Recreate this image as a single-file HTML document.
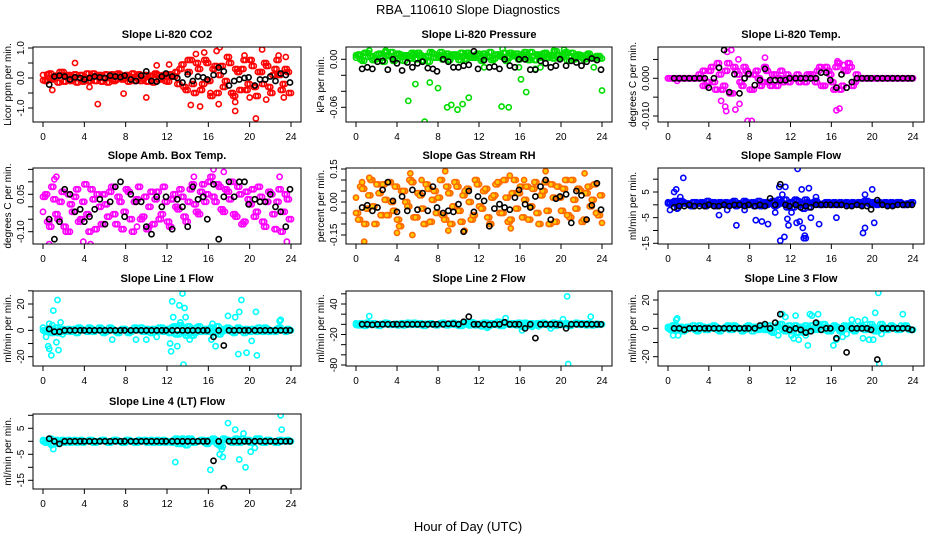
<!DOCTYPE html>
<html><head><meta charset="utf-8"><title>RBA_110610 Slope Diagnostics</title>
<style>
html,body{margin:0;padding:0;background:#fff;}
svg{display:block;font-family:"Liberation Sans",Arial,sans-serif;}
</style></head>
<body>
<svg id="chart" width="936" height="540" viewBox="0 0 936 540" xmlns="http://www.w3.org/2000/svg">
<rect width="936" height="540" fill="#fff"/>
<text x="468" y="14" text-anchor="middle" font-size="13">RBA_110610  Slope Diagnostics</text>
<text x="468" y="531" text-anchor="middle" font-size="13">Hour of Day (UTC)</text>
</svg>
<script>
// ---- data ----
const xTicks = [0,4,8,12,16,20,24];
const blackHours = [0.6,1.1,1.6,2.1,2.6,3.1,3.6,4.0,4.5,5.0,5.5,6.0,6.5,7.0,7.5,7.9,8.5,9.0,9.5,10.0,10.5,11.0,11.5,11.9,12.5,13.0,13.5,14.0,14.5,15.0,15.5,15.9,16.5,17.0,17.5,18.0,18.5,19.0,19.5,19.9,20.5,21.0,21.5,22.0,22.5,23.0,23.5,23.9];
const gridA = [0,0.4,0.8,1.2,1.6,2,2.4,2.8,3.2,3.6,4,4.4,4.8,5.2,5.6,6,6.4,6.8,7.2,7.6,8,8.4,8.8,9.2,9.6,10,10.4,10.8,11.2,11.6,12,12.4,12.8,13.2,13.6,14,14.4,14.8,15.2,15.6,16,16.4,16.8,17.2,17.6,18,18.4,18.8,19.2,19.6,20,20.4,20.8,21.2,21.6,22,22.4,22.8,23.2,23.6,24];
const gridB = [0.2,0.6,1,1.4,1.8,2.2,2.6,3,3.4,3.8,4.2,4.6,5,5.4,5.8,6.2,6.6,7,7.4,7.8,8.2,8.6,9,9.4,9.8,10.2,10.6,11,11.4,11.8,12.2,12.6,13,13.4,13.8,14.2,14.6,15,15.4,15.8,16.2,16.6,17,17.4,17.8,18.2,18.6,19,19.4,19.8,20.2,20.6,21,21.4,21.8,22.2,22.6,23,23.4,23.8];

// Panel 1: CO2
const co2BandA = [0.1,-0.1,0.15,0,-0.15,0.1,0.05,-0.1,0.12,0,-0.12,0.15,0.05,-0.1,0.1,0,-0.15,0.12,-0.05,0.1,0,-0.12,0.15,0,-0.1,0.1,0.05,-0.15,0.1,0,-0.1,0.12,0.05,-0.2,0.45,-0.4,0.6,-0.5,0.3,-0.2,0.5,-0.6,0.4,0.1,-0.3,0.7,-0.5,0.3,-0.4,0.6,-0.2,0.4,-0.6,0.2,0.5,-0.3,0.1,0.6,-0.4,0.3,-0.5];
const co2BandB = [-0.08,0.12,-0.05,0.08,0.2,-0.12,0.1,0.02,-0.15,0.1,-0.02,-0.1,0.15,0.08,-0.12,0.12,0.02,-0.1,0.15,-0.05,0.1,0.03,-0.1,0.12,-0.02,-0.12,0.08,0.15,-0.05,0.1,-0.12,0.05,0.2,0.3,-0.3,0.2,-0.2,0.5,-0.4,0.6,-0.1,0.3,-0.5,0.4,-0.1,0.5,-0.6,0.2,0.3,-0.4,0.6,-0.3,0.2,-0.2,0.4,-0.5,0.3,0.1,-0.2,0.2];
const co2OutX = [3.1,5.3,0.9,7.8,10,14.3,14.8,15.2,15.6,16.8,17.1,17.0,18.6,20.6,20.0,21.2,19.5,21.6,23.3,22.8,23.5,18.6,16.2,14,12.2,11,2,4.5];
const co2OutY = [0.5,-0.87,-0.4,-0.52,-0.65,-0.9,0.8,-0.95,0.85,0.9,1.02,-0.87,-1.1,-1.35,-0.65,0.95,0.75,-0.72,-0.65,0.75,0.7,-0.8,-0.5,0.6,0.45,0.42,0.2,-0.3];
const co2Black = [-0.22,0.05,0.08,0.05,-0.05,0.02,0.0,-0.05,0,0.05,0.02,0.0,0.08,0.05,0.03,0.08,-0.05,-0.1,0.08,0.22,-0.1,-0.12,0.05,0.15,0.05,0.0,-0.15,0.12,-0.1,0.05,0.02,-0.05,0.1,0.35,0.22,-0.25,-0.1,-0.05,0.0,0.02,-0.25,-0.05,-0.05,0.05,-0.1,0.15,0.1,-0.15];
const co2Ticks = [-1,-0.5,0,0.5,1];
const co2TickLabels = ["-1.0","","0.0","","1.0"];

// Panel 2: Pressure
const presBandA = [0.002,0.006,-0.002,0.008,0.004,0,0.007,-0.003,0.005,0.009,0.001,0.006,-0.002,0.004,0.008,0,0.005,0.003,-0.003,0.007,0.002,0.009,0.004,-0.001,0.006,0.003,0.008,0,0.005,0.002,0.007,-0.002,0.004,0.009,0.001,0.006,0.003,-0.002,0.008,0.004,0,0.006,0.002,0.009,-0.001,0.005,0.007,0.002,0.004,0.01,0.001,0.006,-0.002,0.008,0.003,0.005,0,0.007,0.002,0.004,0.001];
const presBandB = [0.005,0,0.008,0.003,-0.001,0.006,0.002,0.009,0.004,-0.002,0.007,0.003,0.005,0.001,0.006,0.008,-0.002,0.004,0.009,0.002,0.005,0,0.007,0.003,0.006,-0.001,0.004,0.008,0.002,0.005,0.001,0.007,0.003,-0.001,0.006,0.004,0.008,0.002,0.005,0.007,0.003,0.009,-0.001,0.004,0.006,0.002,0.008,0.005,0.001,0.006,0.003,0.009,0.004,0,0.006,0.002,0.005,0.003,0.001,0.004];
const presOutX = [5.1,5.8,6.7,7.2,8.0,8.9,9.3,9.9,10.4,11,14.2,14.9,15.9,16.1,16.6,24,12.5,17.5,18,23.2,1.3,2.9,14.3,19.3,20.3];
const presOutY = [-0.052,-0.031,-0.078,-0.029,-0.036,-0.06,-0.057,-0.063,-0.056,-0.048,-0.059,-0.06,-0.01,-0.025,-0.041,-0.039,-0.01,-0.012,-0.01,-0.01,0.011,0.011,0.013,0.011,0.012];
const presBlack = [-0.012,-0.01,-0.012,-0.003,-0.002,-0.013,0,-0.005,-0.014,-0.004,-0.01,-0.005,-0.003,-0.011,-0.012,-0.015,0,-0.003,-0.01,-0.01,-0.008,-0.007,0.01,-0.012,-0.001,-0.01,-0.009,-0.012,0,-0.008,-0.01,0,0,-0.013,-0.013,-0.002,-0.005,-0.01,-0.008,0,-0.008,-0.002,-0.004,-0.008,-0.003,0.001,-0.001,-0.013];
const presTicks = [-0.06,-0.04,-0.02,0];
const presTickLabels = ["-0.06","","","0.00"];

// Panel 3: Li-820 Temp
const tempBandA = [0,0,0,0,0,0,0,0,0.001,0.002,-0.001,0.003,-0.003,0.001,-0.002,0.004,-0.004,0.002,-0.001,0.003,0.001,-0.003,0.002,-0.002,0.003,-0.001,0.001,-0.002,0.002,0,-0.001,0,0.001,0,-0.001,0.001,0,0.002,-0.002,0.003,0.001,-0.003,0.004,-0.002,0.002,0.003,-0.001,0,0,0,0,0,0,0,0,0,0,0,0,0,0];
const tempBandB = [0,0,0,0,0,0,0,0,0,-0.002,0.002,-0.001,0.004,-0.003,0.002,-0.004,0.003,0.001,-0.002,0.002,-0.003,0.001,0,-0.001,0.002,-0.002,0.001,0,-0.001,0.001,0,0,-0.001,0,0.001,0.001,-0.001,0.003,-0.002,0.002,-0.001,0.003,-0.003,0.002,0.004,-0.002,0.001,0,0,0,0,0,0,0,0,0,0,0,0,0];
const tempOutX = [7.8,8.2,5.7,6.6,6.2,5.8,9.5,7.0,16.5,16.8,16.6,17.2,5.2,3.4,0.9,5.6,6.9];
const tempOutY = [-0.0113,-0.0113,-0.0087,-0.0083,0.0075,0.007,0.0055,-0.0068,-0.0085,-0.008,0.0045,0.0035,-0.006,-0.002,-0.0007,-0.0075,0.005];
const tempBlack = [0,0,0,0,0,0,0,-0.0025,0,0.0028,0.0075,-0.0037,0.0011,-0.004,0,0.0012,-0.0018,-0.0005,0.0025,-0.0005,-0.0005,-0.0005,-0.0005,0,0,0,0,0,0,0.0015,0.0015,-0.0005,-0.0025,0.001,-0.0025,-0.001,0,0,0,0,0,0,0,0,0,0,0,0];
const tempTicks = [-0.01,-0.005,0,0.005];
const tempTickLabels = ["-0.010","","0.000",""];

// Panel 4: Amb Box Temp
const ambBandA = [-0.02,0.05,-0.08,0.03,-0.05,0.06,-0.1,0.01,0.04,-0.06,0.02,-0.03,0.07,-0.09,0.0,0.05,-0.04,0.08,-0.07,0.02,-0.02,0.06,-0.1,0.03,-0.05,0.04,0.0,-0.07,0.06,-0.03,0.02,-0.08,0.05,-0.01,0.04,-0.06,0.07,0.01,-0.03,0.09,0.05,0.12,0.02,0.08,-0.02,0.06,0.1,-0.04,0.05,-0.06,0.03,0.07,-0.02,0.04,-0.08,0.06,-0.03,0.02,-0.1,0.05,-0.05];
const ambBandB = [0.04,-0.06,0.08,-0.03,0.02,-0.08,0.05,-0.02,0.07,-0.05,0.09,-0.1,0.03,0.05,-0.07,0.01,0.06,-0.03,0.04,-0.09,0.07,-0.05,0.02,0.08,-0.04,-0.09,0.06,0.03,-0.05,0.08,-0.06,0.03,0.0,0.07,-0.04,0.02,0.09,-0.02,0.06,0.02,0.1,0.04,0.09,-0.01,0.07,0.03,-0.03,0.08,-0.07,0.06,0.01,-0.04,0.08,-0.06,0.02,0.05,-0.09,0.07,-0.02,0.03];
const ambOutX = [0.6,1.3,4.6,3.9,23.5,23.6,19,16.5,17.5,2.6,9.1,10.3,1.1,14.6,22.9];
const ambOutY = [-0.15,0.12,-0.15,-0.14,-0.17,-0.14,0.17,0.15,0.14,-0.1,-0.08,-0.08,0.11,0.12,0.12];
const ambBlack = [-0.05,-0.13,-0.06,0.07,0.05,-0.02,-0.01,-0.06,-0.04,-0.01,0.03,-0.07,0.02,0.08,0.1,-0.04,0.05,0.02,0.02,-0.08,-0.11,0.04,0.0,0.04,-0.09,0.03,0.0,-0.08,0.08,0.03,0.04,-0.05,0.09,-0.13,0.04,0.1,0.04,0.1,0.1,0.01,0.03,0.02,0.02,0.05,0.0,-0.02,-0.08,0.07];
const ambTicks = [-0.10,-0.05,0,0.05,0.10,0.15];
const ambTickLabels = ["-0.10","","","0.05","",""];

// Panel 5: Gas Stream RH
const rhBandA = [0.02,-0.08,0.06,-0.03,0.1,-0.1,0.04,0.08,-0.06,0.0,0.07,-0.11,0.05,-0.02,0.09,-0.07,0.03,-0.1,0.06,0.01,-0.05,0.1,-0.08,0.04,-0.02,0.07,-0.09,0.05,0.0,-0.06,0.08,-0.03,0.06,-0.1,0.03,0.09,-0.05,0.02,-0.08,0.1,0.04,-0.07,0.07,-0.02,0.09,-0.1,0.05,-0.04,0.08,-0.09,0.02,0.06,-0.06,0.1,-0.03,0.05,-0.08,0.07,0.01,-0.05,0.03];
const rhBandB = [-0.05,0.07,-0.1,0.03,-0.02,0.08,-0.06,0.01,0.09,-0.04,-0.08,0.05,0.0,0.1,-0.07,0.04,-0.03,0.08,-0.09,0.05,0.02,-0.06,0.07,-0.1,0.09,-0.04,0.03,0.06,-0.08,0.1,-0.02,0.05,-0.07,0.02,0.08,-0.05,0.1,-0.09,0.04,-0.03,0.07,0.01,-0.08,0.06,-0.05,0.03,0.09,-0.1,0.02,0.07,-0.04,0.1,-0.07,0.01,0.06,-0.09,0.04,-0.02,0.08,-0.06];
const rhOutX = [0.8,1.3,4,5.5,9,10.6,15,18.5,22.3,8.7,24,15.1,5.3,0.6,6.4,16.4];
const rhOutY = [-0.18,0.11,-0.14,-0.15,-0.13,-0.13,0.12,0.14,0.13,0.14,-0.095,-0.12,0.13,0.09,0.1,0.1];
const rhBlack = [-0.025,-0.015,-0.04,-0.025,0.055,0.09,0.005,-0.045,0.025,-0.04,0.055,-0.035,0.04,-0.04,0.07,-0.025,-0.05,-0.04,-0.045,-0.01,-0.135,0.05,-0.045,0.025,0.005,-0.11,-0.03,-0.01,-0.025,-0.035,0.02,0.055,-0.01,-0.025,0.025,0.07,0.1,-0.08,0.015,0.025,0.035,-0.095,0.05,0.03,-0.08,-0.015,0.085,-0.035];
const rhTicks = [-0.15,-0.10,-0.05,0,0.05,0.10,0.15];
const rhTickLabels = ["-0.15","","","0.00","","","0.15"];

// Panel 6: Sample Flow
const sfBandA = [1,0.5,1.5,0,1,0.5,-0.5,1,0.5,0,1.5,0.5,-0.5,1,0,0.5,1,-0.5,0.5,1.5,0,1,0.5,-0.5,1,0.5,1.5,0,1,2,0.5,-1,1.5,0.5,2,-1,1,0.5,0,1,0.5,1,0,0.5,1,0,0.5,1,0.5,1.5,0,0.5,1,0.5,0,1,0.5,1,0,0.5,1];
const sfBandB = [0.5,1,0,1.5,0.5,0,1,0.5,1,-0.5,0.5,1,0,0.5,1,0,1.5,0.5,0,1,0.5,-0.5,1.5,0.5,0,1,-0.5,2,0.5,-1,1,2,0,-1.5,1,0.5,1.5,0,0.5,1,0,0.5,1,0.5,0,1,0.5,0,1.5,0.5,1,0,0.5,1,0.5,0,1,0.5,0,0.5];
const sfOutX = [0.2,0.6,0.8,1.5,1.2,5,5.8,6.7,7.5,8.6,9.2,9.8,10.5,10.9,11.2,11.5,11,11.4,11.7,11.8,12.7,12.6,12.9,13.2,13.3,13.5,13.4,13.1,13.8,14.5,14.8,16.5,19.1,19.3,19.3,20,20.2,12.1,14,0.9,1];
const sfOutY = [-2,5,6,10.5,3,-4,-2,-8,-2,-6,-6.5,-7.5,-3,7,4,7,-14,-12.5,-5.5,-8,14,-7,-6.5,-9,-13,-13,-12,6,6.5,3,-7.5,-5,-11,-9,4,6,-7,-3,-5,-1.5,-1.2];
const sfBlack = [-1,-0.5,-0.5,0,-0.5,-0.5,-0.5,0,-0.5,-0.5,0,-0.5,0,0,-0.5,0,-0.5,0,-0.5,2.5,0,8,0,-0.5,0,-1,-0.5,-1,0,0,0,0,0,0,-0.5,-0.5,0,-0.5,-0.5,-1.8,1.8,0,-0.5,-0.5,0,0,0,0];
const sfTicks = [-15,-10,-5,0,5,10];
const sfTickLabels = ["-15","","-5","","5",""];

// Panel 7: Line 1 Flow
const l1BandA = [2,-1,1,0,-2,1,0,-1,1,2,0,-1,1,0,2,-2,0,1,-1,0,1,-2,0,1,2,-1,0,1,-1,2,0,-2,3,-3,2,-4,1,-2,3,0,-1,2,0,-3,1,2,-1,0,1,-2,0,1,-1,0,2,-1,0,1,0,-1,0];
const l1BandB = [0,1,-2,2,0,-1,1,0,-2,1,0,2,-1,0,1,-1,2,0,-2,1,0,-1,2,0,-1,1,-2,0,2,-1,1,2,-3,4,-2,3,-4,2,-1,1,0,-2,3,-1,0,1,-2,2,0,1,-1,0,2,-1,1,0,-1,2,0,1];
const l1OutX = [0.3,0.5,0.6,0.8,1.0,1.3,1.5,1.4,1.7,1.9,6.7,9,10,11,12.3,12.4,12.5,12.6,13.2,13.5,13.7,13.8,13.6,13,13.3,14.2,16.3,16.7,16.4,17.9,18.6,18.9,19.2,19.0,19.7,20.2,20.6,20.7,22.9,23,0.6,0.9];
const l1OutY = [-5,-12,-14,-19,15,-9,-15,23,6,-3,-7,-7,-7,-5,-10,-16,22,10,19,28,17,10,-26,-12,6,-7,-7,-12,5,11,10,-18,23,14,-17,-8,14,-19,7,8,5,4];
const l1Black = [1,-1,-1,0,0,0,0,0,0,0,0,0,0,0,0,0,0,0,0,0,0,0,0,0,0,0,0,0,0,0,0,0,-5,0,-11.5,0,0,0,0,0,0,0,0,0,0,0,0,0];
const l1Ticks = [-20,-10,0,10,20,30];
const l1TickLabels = ["-20","","0","","20",""];

// Panel 8: Line 2 Flow
const l2BandA = [2,-2,0,3,-1,1,-3,0,2,-1,1,0,-2,3,0,-1,2,-3,1,0,-2,2,0,-1,3,1,-3,4,-2,2,0,-4,3,-2,1,5,-3,2,-1,0,3,-5,1,2,-2,0,3,-1,1,-3,2,0,-2,1,3,-1,0,2,-2,1,0];
const l2BandB = [-1,2,-3,0,2,-2,1,3,-1,0,-2,2,1,-1,3,0,-2,1,2,-1,0,3,-2,1,-1,-3,2,0,4,-2,1,3,-4,2,-1,-3,4,0,2,-2,1,3,-3,0,2,-1,1,-2,3,0,-1,2,-3,1,0,2,-2,1,0,-1];
const l2OutX = [1.3,20.6,20.7,16.2,19,12.8,14.6,20.2,22.9,17.2,17.8];
const l2OutY = [16,55,-78,-12,-8,-7,12,10,15,-5,-4];
const l2Black = [0,0,-1,0,0,0,0,0,0,0,0,0,0,0,0,0,0,1,1,0,5,15,0,0,0,-1,0,0,4,0,0,0,-8,0,-27,0,0,0,0,-1,-8,0,0,0,0,0,0,0];
const l2Ticks = [-80,-60,-40,-20,0,20,40,60];
const l2TickLabels = ["-80","","","-20","","","40",""];

// Panel 9: Line 3 Flow
const l3BandA = [1,-1,2,0,-2,1,0,-1,2,1,-1,0,1,-2,0,2,-1,1,0,-1,2,-2,1,0,-1,2,-3,1,3,-2,2,0,-3,1,2,-2,0,3,-1,1,-2,2,0,-1,1,2,-2,0,1,-1,3,-2,0,1,-1,2,0,-1,1,0,-1];
const l3BandB = [0,2,-1,1,-1,0,2,-2,0,-1,1,2,-1,0,1,-1,2,0,-2,1,0,1,-1,2,0,-2,1,3,-1,0,-2,2,1,-3,0,2,-1,1,3,-2,0,1,-2,2,1,-1,0,2,-1,0,1,-2,3,-1,0,1,-1,0,2,-1];
const l3OutX = [0.5,0.8,0.9,1.0,10.8,11.2,11.5,12.1,12.3,12.5,12.8,13.5,13.7,13.9,14.1,14.7,16.2,16.5,17.1,17.5,18.0,18.6,19.1,19.3,19.7,20.1,20.3,20.6,20.7,20.9,23,22.8];
const l3OutY = [-5,6,7,-5,-5,10,8,-5,-7,9,-8,-5,-12,10,9,10,-12,-8,-6,-4,6,5,-7,6,-8,-8,11,25,-25,-4,10,2];
const l3Black = [0,0,-1,0,0,0,0,0,0,0,0,0,0,0,0,0,0,2,3,0,4,10,0,-1,0,-1,-3,-2,4,-1,0,0,-7,0,-17,0,0,0,0,-1,-22,0,0,0,0,0,0,-1];
const l3Ticks = [-20,-10,0,10,20];
const l3TickLabels = ["-20","","0","","20"];

// Panel 10: Line 4 (LT) Flow
const l4BandA = [0.5,-0.5,1,0,-1,0.5,0,-0.5,0.5,0,-0.5,0,0.5,-0.5,0,0.5,-0.5,0,0.5,0,-0.5,0.5,0,-0.5,0,0.5,0,-0.5,0.5,0,-0.5,0,0.5,-1,1,-1.5,0.5,-0.5,0,0.5,-1,0,0.5,-1.5,1,0.5,-0.5,1,-0.5,0,0.5,-0.5,1,0,-0.5,0.5,0,-0.5,0.5,0,0];
const l4BandB = [0,0.5,-1,0.5,0,-0.5,0.5,0,-0.5,0.5,0,0.5,-0.5,0,0.5,0,-0.5,0.5,0,-0.5,0.5,0,-0.5,0.5,0,-0.5,0.5,0,-0.5,0.5,0,-0.5,1,-1,0.5,1,-0.5,0,0.5,-0.5,0.5,1,-1,-2,0.5,0,0.5,-0.5,1,0.5,-0.5,0,1,-0.5,0.5,0,-0.5,0.5,0,0.5];
const l4OutX = [1.0,12.8,16.2,17.1,17.4,17.3,17.9,18.6,19.0,19.4,19.6,20.1,20.5,20.7,23.0,23.1,13.6,14.4,0.8];
const l4OutY = [-3,-8,-11,-5,-6,-3,7,4.5,-7,3,-10,-4,-2.5,0.5,10,4.5,-1,1,-1.5];
const l4Black = [1,0,-1,0,0,0,0,0,0,0,0,0,0,0,0,0,0,0,0,0,0,0,0,0,0,0,0,0,0,0,0,0,-7.5,0,-18,0,0,0,0,0,0,0,0,0,0,0,0,0];
const l4Ticks = [-15,-10,-5,0,5,10];
const l4TickLabels = ["-15","","-5","","5",""];

// ---- layout ----
const cols = [{l:33,r:301,x0:43,x24:291},{l:346,r:612,x0:356,x24:602},{l:658,r:924,x0:668,x24:913}];
const rows = [{t:47,b:122},{t:168,b:244},{t:291,b:366},{t:414,b:489}];
const panels = [
 {name:'co2',title:'Slope Li-820 CO2',ylab:'Licor ppm per min.',c:0,r:0,stroke:'#ff0000',fill:'none',a:[1,48,-1,108],bandA:co2BandA,bandB:co2BandB,ox:co2OutX,oy:co2OutY,blk:co2Black,ticks:co2Ticks,tl:co2TickLabels},
 {name:'pressure',title:'Slope Li-820 Pressure',ylab:'kPa per min.',c:1,r:0,stroke:'#00dd00',fill:'none',a:[0,59.3,-0.06,107.3],bandA:presBandA,bandB:presBandB,ox:presOutX,oy:presOutY,blk:presBlack,ticks:presTicks,tl:presTickLabels},
 {name:'li820-temp',title:'Slope Li-820 Temp.',ylab:'degrees C per min.',c:2,r:0,stroke:'#ff00ff',fill:'none',a:[0,78.3,-0.01,116],bandA:tempBandA,bandB:tempBandB,ox:tempOutX,oy:tempOutY,blk:tempBlack,ticks:tempTicks,tl:tempTickLabels},
 {name:'amb-box-temp',title:'Slope Amb. Box Temp.',ylab:'degrees C per min.',c:0,r:1,stroke:'#ff00ff',fill:'none',a:[0.05,194.3,-0.10,231.7],bandA:ambBandA,bandB:ambBandB,ox:ambOutX,oy:ambOutY,blk:ambBlack,ticks:ambTicks,tl:ambTickLabels},
 {name:'gas-stream-rh',title:'Slope Gas Stream RH',ylab:'percent per min.',c:1,r:1,stroke:'#ff6a00',fill:'#ffcc00',a:[0.15,169,-0.15,235],bandA:rhBandA,bandB:rhBandB,ox:rhOutX,oy:rhOutY,blk:rhBlack,ticks:rhTicks,tl:rhTickLabels},
 {name:'sample-flow',title:'Slope Sample Flow',ylab:'ml/min per min.',c:2,r:1,stroke:'#0000ff',fill:'none',a:[5,192,-15,243.3],bandA:sfBandA,bandB:sfBandB,ox:sfOutX,oy:sfOutY,blk:sfBlack,ticks:sfTicks,tl:sfTickLabels},
 {name:'line1-flow',title:'Slope Line 1 Flow',ylab:'ml/min per min.',c:0,r:2,stroke:'#00ffff',fill:'none',a:[20,304,-20,356.7],bandA:l1BandA,bandB:l1BandB,ox:l1OutX,oy:l1OutY,blk:l1Black,ticks:l1Ticks,tl:l1TickLabels},
 {name:'line2-flow',title:'Slope Line 2 Flow',ylab:'ml/min per min.',c:1,r:2,stroke:'#00ffff',fill:'none',a:[40,304,-80,365],bandA:l2BandA,bandB:l2BandB,ox:l2OutX,oy:l2OutY,blk:l2Black,ticks:l2Ticks,tl:l2TickLabels},
 {name:'line3-flow',title:'Slope Line 3 Flow',ylab:'ml/min per min.',c:2,r:2,stroke:'#00ffff',fill:'none',a:[20,300,-20,356.7],bandA:l3BandA,bandB:l3BandB,ox:l3OutX,oy:l3OutY,blk:l3Black,ticks:l3Ticks,tl:l3TickLabels},
 {name:'line4-flow',title:'Slope Line 4 (LT) Flow',ylab:'ml/min per min.',c:0,r:3,stroke:'#00ffff',fill:'none',a:[5,428.3,-15,480.3],bandA:l4BandA,bandB:l4BandB,ox:l4OutX,oy:l4OutY,blk:l4Black,ticks:l4Ticks,tl:l4TickLabels}
];

const NS = 'http://www.w3.org/2000/svg';
const svg = document.getElementById('chart');
function mk(tag, attrs, parent){
  const e = document.createElementNS(NS, tag);
  for (const k in attrs) e.setAttribute(k, attrs[k]);
  (parent||svg).appendChild(e);
  return e;
}

panels.forEach(p => {
  const col = cols[p.c], row = rows[p.r];
  const sx = h => col.x0 + h/24*(col.x24-col.x0);
  const sy = v => p.a[1] + (v-p.a[0])*(p.a[3]-p.a[1])/(p.a[2]-p.a[0]);
  const g = mk('g', {});
  
  

  const clipId = 'clip-' + p.name;
  const cp = mk('clipPath', {id: clipId}, g);
  mk('rect', {x: col.l, y: row.t, width: col.r-col.l, height: row.b-row.t}, cp);

  const t = mk('text', {x:(col.l+col.r)/2, y: row.t-9, 'text-anchor':'middle', 'font-size':'11', 'font-weight':'bold'}, g);
  t.textContent = p.title;
  
  

  const yl = mk('text', {transform:`translate(${col.l-22},${(row.t+row.b)/2}) rotate(-90)`, 'text-anchor':'middle', 'font-size':'10'}, g);
  yl.textContent = p.ylab;
  
  

  const pts = mk('g', {'clip-path': `url(#${clipId})`}, g);
  
  
  const dot = (h, v, stroke, fill) => {
    const c = mk('circle', {cx: sx(h).toFixed(1), cy: sy(v).toFixed(1), r: 2.6, fill: fill, stroke: stroke, 'stroke-width': 1.6}, pts);
    
    
  };
  const n1 = Math.min(gridA.length, p.bandA.length);
  for (let i=0;i<n1;i++) dot(gridA[i], p.bandA[i], p.stroke, p.fill);
  const n2 = Math.min(gridB.length, p.bandB.length);
  for (let i=0;i<n2;i++) dot(gridB[i], p.bandB[i], p.stroke, p.fill);
  // second pass pairing each band with the other grid for density
  for (let i=0;i<Math.min(gridA.length, p.bandB.length);i++) dot(gridA[i], p.bandB[i], p.stroke, p.fill);
  for (let i=0;i<Math.min(gridB.length, p.bandA.length-1);i++) dot(gridB[i], p.bandA[i+1], p.stroke, p.fill);
  const n3 = Math.min(p.ox.length, p.oy.length);
  for (let i=0;i<n3;i++) dot(p.ox[i], p.oy[i], p.stroke, p.fill);
  const n4 = Math.min(blackHours.length, p.blk.length);
  for (let i=0;i<n4;i++) dot(blackHours[i], p.blk[i], '#000', 'none');

  const box = mk('rect', {x: col.l, y: row.t, width: col.r-col.l, height: row.b-row.t, fill:'none', stroke:'#000', 'stroke-width':1}, g);
  
  

  const xa = mk('g', {}, g);
  
  
  xTicks.forEach(h => {
    mk('line', {x1: sx(h), x2: sx(h), y1: row.b, y2: row.b+5, stroke:'#000'}, xa);
    const tx = mk('text', {x: sx(h), y: row.b+18, 'text-anchor':'middle', 'font-size':'10'}, xa);
    tx.textContent = h;
    
    
  });
  const ya = mk('g', {}, g);
  
  
  p.ticks.forEach((v, i) => {
    const y = sy(v);
    if (y < row.t-1 || y > row.b+1) return;
    mk('line', {x1: col.l-5, x2: col.l, y1: y, y2: y, stroke:'#000'}, ya);
    if (p.tl[i]) {
      const ty = mk('text', {transform:`translate(${col.l-9},${y}) rotate(-90)`, 'text-anchor':'middle', 'font-size':'10'}, ya);
      ty.textContent = p.tl[i];
      
      
    }
  });
});
</script>
</body></html>
